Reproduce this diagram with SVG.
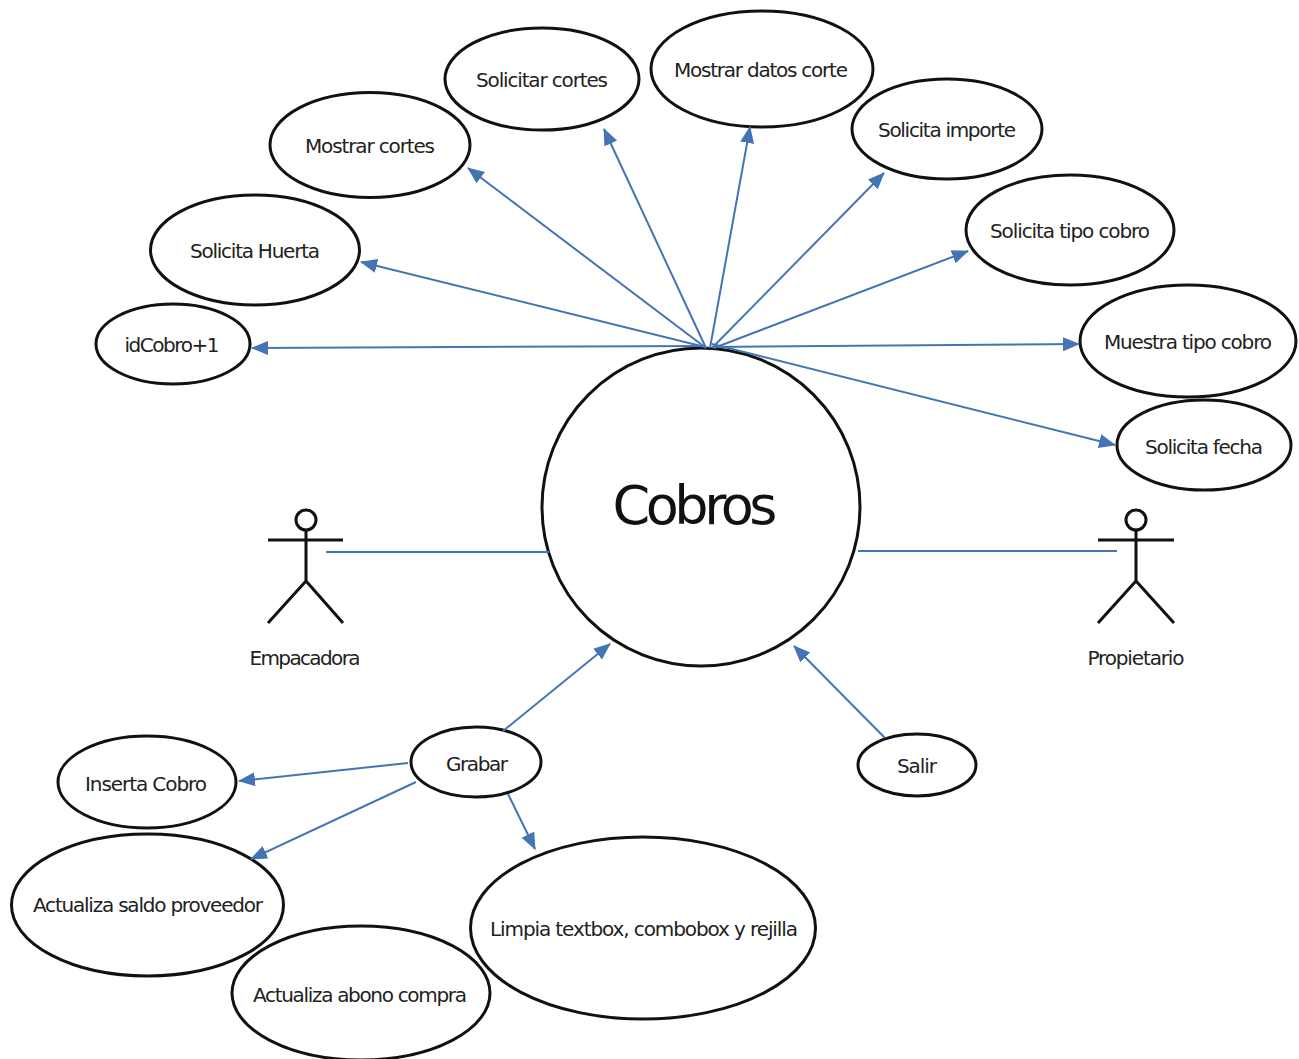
<svg xmlns="http://www.w3.org/2000/svg" width="1299" height="1059" viewBox="0 0 1299 1059">
<style>
.n{fill:#fff;stroke:#111;stroke-width:3}
.t{font-family:"DejaVu Sans",Tahoma,sans-serif;font-size:20px;fill:#222;text-anchor:middle}
.c{stroke:#4474b4;stroke-width:2;fill:none}
.a{stroke:#4474b4;stroke-width:2;fill:none;marker-end:url(#m)}
.s{stroke:#111;stroke-width:3;fill:none}
</style>
<defs><marker id="m" markerUnits="userSpaceOnUse" markerWidth="18" markerHeight="16" refX="16" refY="7" orient="auto"><path d="M0 0L17 7L0 14Z" fill="#4474b4"/></marker></defs>
<rect width="1299" height="1059" fill="#fff"/>
<g id="n-cobros"><circle class="n" cx="701" cy="507" r="159"/><text x="695" y="524" style="font-family:'DejaVu Sans',Tahoma,sans-serif;font-size:54px;fill:#111;text-anchor:middle" textLength="165">Cobros</text></g>
<g id="n-idcobro"><ellipse class="n" cx="173" cy="344" rx="77" ry="40"/><text class="t" x="172" y="352" textLength="95">idCobro+1</text></g>
<g id="n-huerta"><ellipse class="n" cx="255" cy="250" rx="104.500" ry="55"/><text class="t" x="255" y="258" textLength="130">Solicita Huerta</text></g>
<g id="n-mostrar"><ellipse class="n" cx="370" cy="145" rx="100" ry="52.500"/><text class="t" x="370" y="153" textLength="130">Mostrar cortes</text></g>
<g id="n-solcortes"><ellipse class="n" cx="542" cy="79" rx="97" ry="51"/><text class="t" x="542" y="87" textLength="132">Solicitar cortes</text></g>
<g id="n-datos"><ellipse class="n" cx="762" cy="69" rx="111" ry="58"/><text class="t" x="761" y="77" textLength="174">Mostrar datos corte</text></g>
<g id="n-importe"><ellipse class="n" cx="947" cy="129" rx="95" ry="50"/><text class="t" x="947" y="137" textLength="138">Solicita importe</text></g>
<g id="n-tipo"><ellipse class="n" cx="1070" cy="230" rx="104" ry="55"/><text class="t" x="1070" y="238" textLength="160">Solicita tipo cobro</text></g>
<g id="n-muestra"><ellipse class="n" cx="1188" cy="341" rx="108" ry="56"/><text class="t" x="1188" y="349" textLength="168">Muestra tipo cobro</text></g>
<g id="n-fecha"><ellipse class="n" cx="1204" cy="445" rx="87" ry="45"/><text class="t" x="1204" y="454" textLength="118">Solicita fecha</text></g>
<g id="n-grabar"><ellipse class="n" cx="476" cy="762" rx="65" ry="35"/><text class="t" x="477" y="771" textLength="62">Grabar</text></g>
<g id="n-salir"><ellipse class="n" cx="917" cy="765" rx="59" ry="31"/><text class="t" x="917" y="773" textLength="40">Salir</text></g>
<g id="n-inserta"><ellipse class="n" cx="147" cy="782" rx="89" ry="46"/><text class="t" x="146" y="791" textLength="122">Inserta Cobro</text></g>
<g id="n-saldo"><ellipse class="n" cx="147.500" cy="905" rx="136" ry="71"/><text class="t" x="148" y="912" textLength="230">Actualiza saldo proveedor</text></g>
<g id="n-abono"><ellipse class="n" cx="361" cy="993" rx="129" ry="67"/><text class="t" x="360" y="1002" textLength="214">Actualiza abono compra</text></g>
<g id="n-limpia"><ellipse class="n" cx="643" cy="928" rx="172.500" ry="91"/><text class="t" x="644" y="936" textLength="308">Limpia textbox, combobox y rejilla</text></g>
<g id="n-empacadora"><circle class="n" cx="306" cy="520" r="10"/><path class="s" d="M268 540H343M306 530V581L268 623M306 581L343 623"/><text class="t" x="305" y="665" textLength="111">Empacadora</text></g>
<g id="n-propietario"><circle class="n" cx="1136" cy="520" r="10"/><path class="s" d="M1098 540H1174M1136 530V581L1098 623M1136 581L1174 623"/><text class="t" x="1136" y="665" textLength="97">Propietario</text></g>
<g id="connectors">
<path class="c" d="M326 552H549M858 551H1117"/>
<path class="a" d="M705 346L252 348"/>
<path class="a" d="M705 347L361 262"/>
<path class="a" d="M706 348L468 168"/>
<path class="a" d="M706 348L604 129"/>
<path class="a" d="M710 348L750 127"/>
<path class="a" d="M712 348L884 173"/>
<path class="a" d="M714 348L968 251"/>
<path class="a" d="M712 347L1079 344"/>
<path class="a" d="M712 344L1115 445"/>
<path class="a" d="M503 731L610 644"/>
<path class="a" d="M885 738L794 646"/>
<path class="a" d="M408 763L239 781"/>
<path class="a" d="M416 782L251 859"/>
<path class="a" d="M508 794L535 849"/>
</g>
</svg>
